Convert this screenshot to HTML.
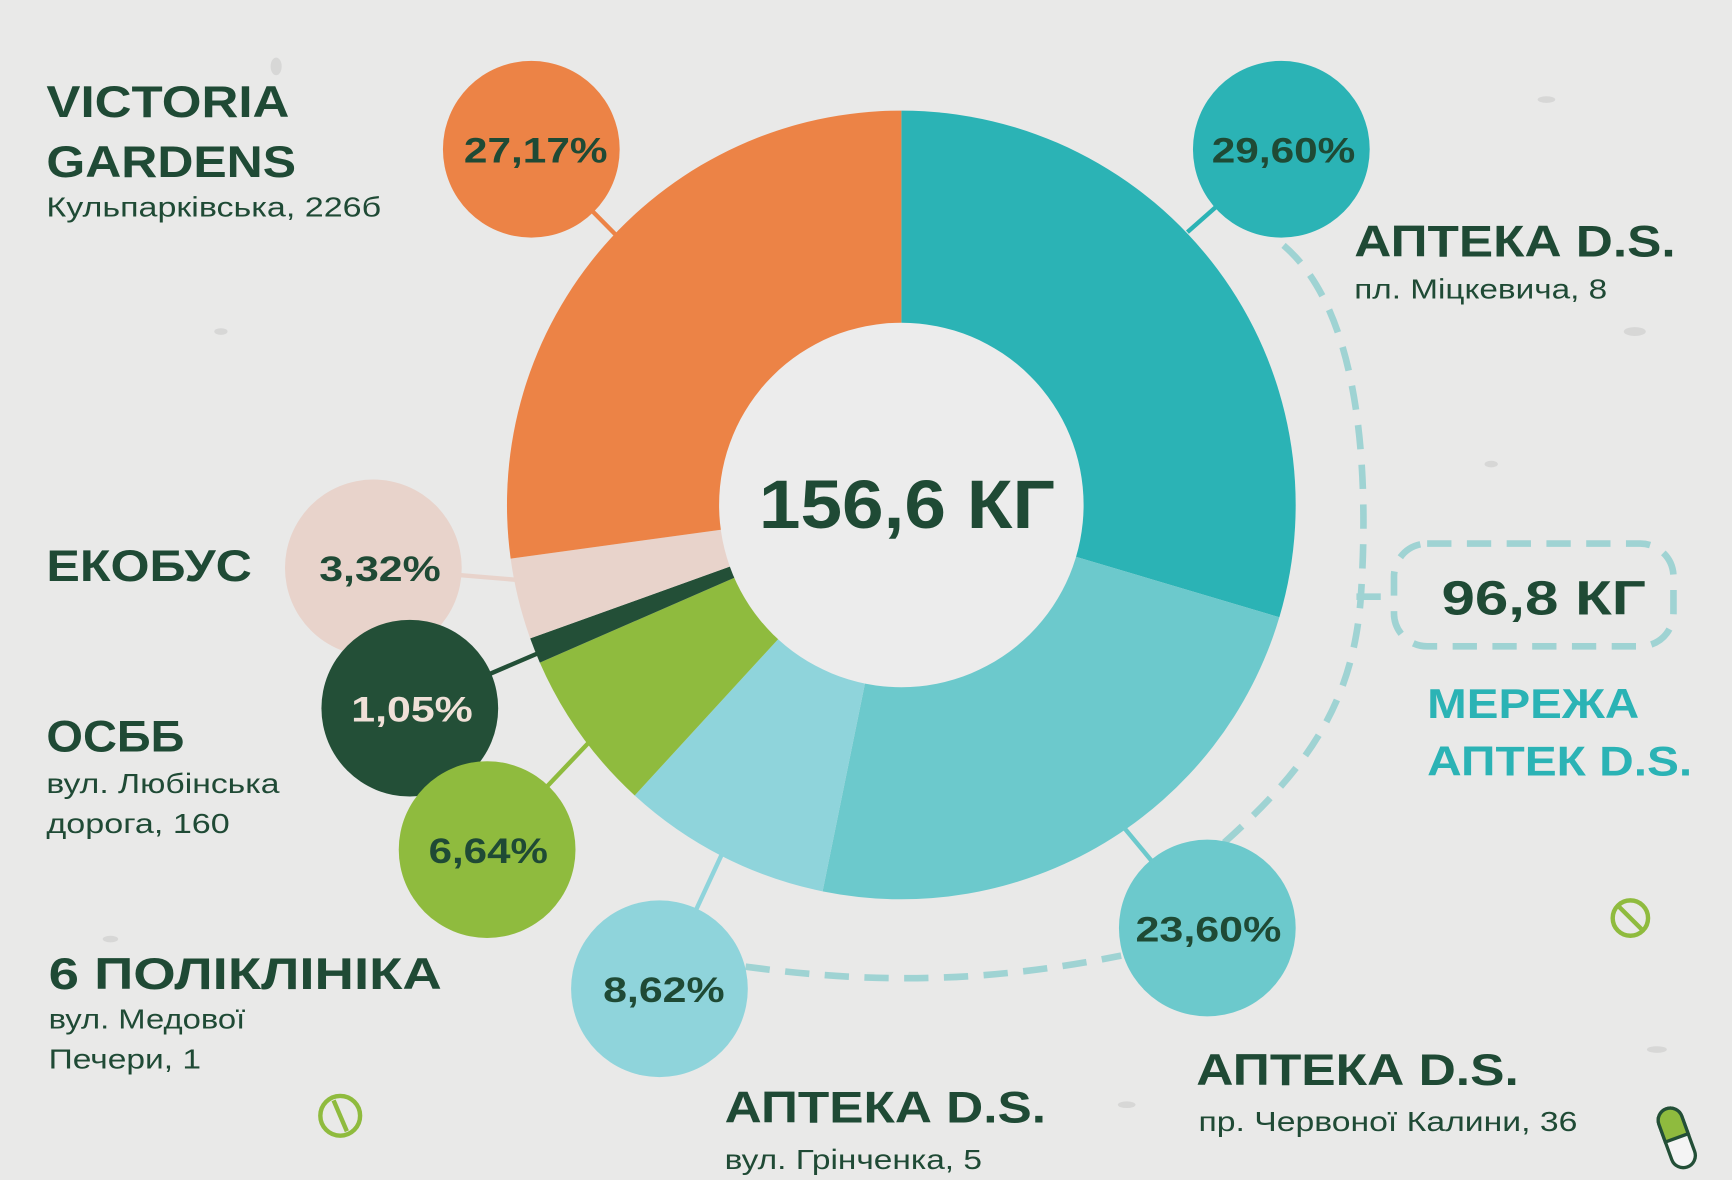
<!DOCTYPE html>
<html><head><meta charset="utf-8"><style>
html,body{margin:0;padding:0;background:#e9e9e8;}
svg{display:block}
text{font-family:"Liberation Sans","DejaVu Sans",sans-serif;}
</style></head><body>
<svg width="1732" height="1180" viewBox="0 0 1568 1068" xmlns="http://www.w3.org/2000/svg">
<rect width="1568" height="1068" fill="#e9e9e8"/>
<g fill="#cfcfcf" opacity="0.7">
<ellipse cx="1400" cy="90" rx="8" ry="3"/><ellipse cx="1480" cy="300" rx="10" ry="4"/><ellipse cx="200" cy="300" rx="6" ry="3"/>
<ellipse cx="1500" cy="950" rx="9" ry="3"/><ellipse cx="100" cy="850" rx="7" ry="3"/><ellipse cx="1350" cy="420" rx="6" ry="3"/>
<ellipse cx="250" cy="60" rx="5" ry="8"/><ellipse cx="1020" cy="1000" rx="8" ry="3"/>
</g>
<g stroke-width="4">
<line x1="481" y1="135" x2="560" y2="215" stroke="#ec8346"/>
<line x1="1160" y1="135" x2="1075" y2="210" stroke="#2bb3b5"/>
<line x1="338" y1="514" x2="470" y2="525" stroke="#e8d3cb"/>
<line x1="371" y1="641" x2="490" y2="590" stroke="#234f37"/>
<line x1="441" y1="769" x2="535" y2="670" stroke="#8fbb3e"/>
<line x1="597" y1="895" x2="655" y2="770" stroke="#8fd4db"/>
<line x1="1093" y1="840" x2="1010" y2="740" stroke="#6cc9cc"/>
</g>
<g fill="none" stroke="#9fd3d3" stroke-width="6" stroke-dasharray="22 14">
<path d="M1162,222 C1230,280 1240,420 1232,540 C1225,640 1180,700 1100,770"/>
<path d="M1228,540 L1262,540"/>
<path d="M675,875 C800,892 900,888 1015,865"/>
<rect x="1262" y="492" width="253" height="93" rx="30"/>
</g>
<g>
<path d="M816,457 L816,100 A357,357 0 0 1 1158.2,558.7 Z" fill="#2bb3b5"/>
<path d="M816,457 L1158.2,558.7 A357,357 0 0 1 744.7,806.8 Z" fill="#6cc9cc"/>
<path d="M816,457 L744.7,806.8 A357,357 0 0 1 574.6,720.0 Z" fill="#8fd4db"/>
<path d="M816,457 L574.6,720.0 A357,357 0 0 1 488.7,599.7 Z" fill="#8fbb3e"/>
<path d="M816,457 L488.7,599.7 A357,357 0 0 1 480.0,577.8 Z" fill="#234f37"/>
<path d="M816,457 L480.0,577.8 A357,357 0 0 1 462.3,505.6 Z" fill="#e8d3cb"/>
<path d="M816,457 L462.3,505.6 A357,357 0 0 1 816,100 Z" fill="#ec8346"/>
<circle cx="816" cy="457" r="165" fill="#ececec"/>
</g>
<text x="687" y="478" textLength="268" lengthAdjust="spacingAndGlyphs" font-size="62" font-weight="bold" fill="#1f4a35">156,6 КГ</text>
<g font-size="32" font-weight="bold" lengthAdjust="spacingAndGlyphs">
<circle cx="481" cy="135" r="80" fill="#ec8346"/><text x="420" y="147" textLength="130" lengthAdjust="spacingAndGlyphs" fill="#1f4a35">27,17%</text>
<circle cx="1160" cy="135" r="80" fill="#2bb3b5"/><text x="1097" y="147" textLength="130" lengthAdjust="spacingAndGlyphs" fill="#1f4a35">29,60%</text>
<circle cx="338" cy="514" r="80" fill="#e8d3cb"/><text x="289" y="526" textLength="110" lengthAdjust="spacingAndGlyphs" fill="#1f4a35">3,32%</text>
<circle cx="371" cy="641" r="80" fill="#234f37"/><text x="318" y="653" textLength="110" lengthAdjust="spacingAndGlyphs" fill="#f0e0d8">1,05%</text>
<circle cx="441" cy="769" r="80" fill="#8fbb3e"/><text x="388" y="781" textLength="108" lengthAdjust="spacingAndGlyphs" fill="#1f4a35">6,64%</text>
<circle cx="597" cy="895" r="80" fill="#8fd4db"/><text x="546" y="907" textLength="110" lengthAdjust="spacingAndGlyphs" fill="#1f4a35">8,62%</text>
<circle cx="1093" cy="840" r="80" fill="#6cc9cc"/><text x="1028" y="852" textLength="132" lengthAdjust="spacingAndGlyphs" fill="#1f4a35">23,60%</text>
</g>
<g fill="#1f4a35">
<text x="42" y="106" font-size="40" font-weight="bold" textLength="220" lengthAdjust="spacingAndGlyphs">VICTORIA</text>
<text x="42" y="160" font-size="40" font-weight="bold" textLength="226" lengthAdjust="spacingAndGlyphs">GARDENS</text>
<text x="42" y="196" font-size="25" textLength="303" lengthAdjust="spacingAndGlyphs">Кульпарківська, 226б</text>
<text x="1226" y="232" font-size="40" font-weight="bold" textLength="291" lengthAdjust="spacingAndGlyphs">АПТЕКА D.S.</text>
<text x="1226" y="270" font-size="25" textLength="229" lengthAdjust="spacingAndGlyphs">пл. Міцкевича, 8</text>
<text x="42" y="526" font-size="40" font-weight="bold" textLength="186" lengthAdjust="spacingAndGlyphs">ЕКОБУС</text>
<text x="42" y="680" font-size="40" font-weight="bold" textLength="125" lengthAdjust="spacingAndGlyphs">ОСББ</text>
<text x="42" y="718" font-size="25" textLength="211" lengthAdjust="spacingAndGlyphs">вул. Любінська</text>
<text x="42" y="754" font-size="25" textLength="166" lengthAdjust="spacingAndGlyphs">дорога, 160</text>
<text x="44" y="895" font-size="40" font-weight="bold" textLength="356" lengthAdjust="spacingAndGlyphs">6 ПОЛІКЛІНІКА</text>
<text x="44" y="931" font-size="25" textLength="178" lengthAdjust="spacingAndGlyphs">вул. Медової</text>
<text x="44" y="967" font-size="25" textLength="138" lengthAdjust="spacingAndGlyphs">Печери, 1</text>
<text x="656" y="1016" font-size="40" font-weight="bold" textLength="291" lengthAdjust="spacingAndGlyphs">АПТЕКА D.S.</text>
<text x="656" y="1058" font-size="25" textLength="233" lengthAdjust="spacingAndGlyphs">вул. Грінченка, 5</text>
<text x="1083" y="982" font-size="40" font-weight="bold" textLength="292" lengthAdjust="spacingAndGlyphs">АПТЕКА D.S.</text>
<text x="1085" y="1024" font-size="25" textLength="343" lengthAdjust="spacingAndGlyphs">пр. Червоної Калини, 36</text>
<text x="1305" y="556" font-size="44" font-weight="bold" textLength="185" lengthAdjust="spacingAndGlyphs">96,8 КГ</text>
</g>
<g fill="#2bb3b5" font-size="38" font-weight="bold">
<text x="1292" y="650" textLength="192" lengthAdjust="spacingAndGlyphs">МЕРЕЖА</text>
<text x="1292" y="702" textLength="240" lengthAdjust="spacingAndGlyphs">АПТЕК D.S.</text>
</g>
<g fill="none" stroke="#8fbb3e" stroke-width="4">
<circle cx="1476" cy="831" r="16"/><line x1="1466" y1="821" x2="1486" y2="841"/>
<circle cx="308" cy="1010" r="18"/><line x1="302" y1="996" x2="314" y2="1024"/>
</g>
<g transform="translate(1518,1030) rotate(-20)">
<rect x="-11" y="-28" width="22" height="56" rx="11" fill="#f4f4f4" stroke="#234f37" stroke-width="3"/>
<path d="M-11,0 L-11,-17 A11,11 0 0 1 11,-17 L11,0 Z" fill="#8fbb3e" stroke="#234f37" stroke-width="3"/>
</g>
</svg>
</body></html>
